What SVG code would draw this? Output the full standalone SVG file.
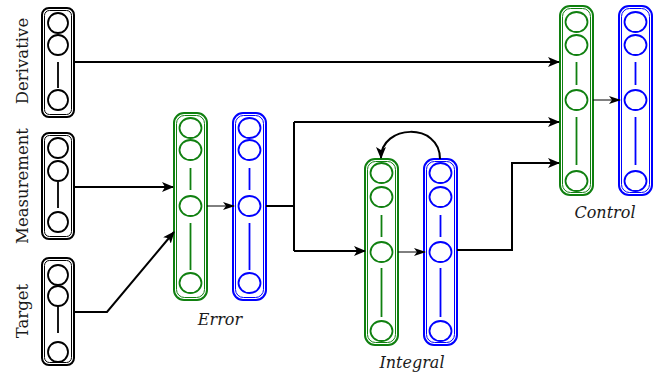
<svg xmlns="http://www.w3.org/2000/svg" width="661" height="375" viewBox="0 0 661 375">
<style>
.lab{font-family:"DejaVu Serif","Liberation Serif",serif;font-size:16.5px;fill:#1a1a1a}
.it{font-family:"DejaVu Serif","Liberation Serif",serif;font-style:italic;font-size:16px;fill:#1a1a1a}
.bk{fill:none;stroke:#000}
.gr{fill:none;stroke:#108010}
.bl{fill:none;stroke:#0000ff}
.o{stroke-width:2}
.i{stroke-width:1}
.c{stroke-width:1.8}
.con{fill:none;stroke:#000;stroke-width:2}
.thin{fill:none;stroke:#000;stroke-width:1}
</style>
<defs>
<marker id="ah" markerWidth="12" markerHeight="10" refX="11" refY="5" orient="auto" markerUnits="userSpaceOnUse">
<path d="M0,0 L12,5 L0,10 L3,5 z" fill="#000"/>
</marker>
<marker id="ahs" markerWidth="12" markerHeight="8" refX="11" refY="4" orient="auto" markerUnits="userSpaceOnUse">
<path d="M0,0 L12,4 L0,8 L3,4 z" fill="#000"/>
</marker>
</defs>

<g id="derivative">
<rect class="bk o" x="42" y="8" width="32" height="109" rx="7"/>
<rect class="bk i" x="44.5" y="10.5" width="27" height="104" rx="5"/>
<circle class="bk c" cx="58" cy="23" r="10"/>
<circle class="bk c" cx="58" cy="45" r="10"/>
<line class="bk c" x1="58" y1="62" x2="58" y2="88"/>
<circle class="bk c" cx="58" cy="100" r="10"/>
<text class="lab" transform="translate(28,61) rotate(-90)" text-anchor="middle">Derivative</text>
</g>

<g id="measurement">
<rect class="bk o" x="42" y="133" width="32" height="106" rx="7"/>
<rect class="bk i" x="44.5" y="135.5" width="27" height="101" rx="5"/>
<circle class="bk c" cx="58" cy="148" r="10"/>
<circle class="bk c" cx="58" cy="171" r="10"/>
<line class="bk c" x1="58" y1="182" x2="58" y2="208"/>
<circle class="bk c" cx="58" cy="222" r="10"/>
<text class="lab" transform="translate(28,186) rotate(-90)" text-anchor="middle">Measurement</text>
</g>

<g id="target">
<rect class="bk o" x="42" y="258" width="32" height="107" rx="7"/>
<rect class="bk i" x="44.5" y="260.5" width="27" height="102" rx="5"/>
<circle class="bk c" cx="58" cy="275" r="10"/>
<circle class="bk c" cx="58" cy="296" r="10"/>
<line class="bk c" x1="58" y1="306" x2="58" y2="333"/>
<circle class="bk c" cx="58" cy="352" r="10"/>
<text class="lab" transform="translate(28,311) rotate(-90)" text-anchor="middle">Target</text>
</g>

<g id="error">
<rect class="gr o" x="174" y="113" width="33" height="187" rx="10"/>
<rect class="gr i" x="176.5" y="115.5" width="28" height="182" rx="8"/>
<ellipse class="gr c" cx="190.5" cy="128" rx="11" ry="10"/>
<ellipse class="gr c" cx="190.5" cy="150" rx="11" ry="10"/>
<line class="gr c" x1="190.5" y1="168" x2="190.5" y2="190"/>
<ellipse class="gr c" cx="190.5" cy="206" rx="11" ry="10"/>
<line class="gr c" x1="190.5" y1="223" x2="190.5" y2="270"/>
<ellipse class="gr c" cx="190.5" cy="283" rx="11" ry="10"/>
<rect class="bl o" x="233" y="113" width="33" height="187" rx="10"/>
<rect class="bl i" x="235.5" y="115.5" width="28" height="182" rx="8"/>
<ellipse class="bl c" cx="249.5" cy="128" rx="11" ry="10"/>
<ellipse class="bl c" cx="249.5" cy="150" rx="11" ry="10"/>
<line class="bl c" x1="249.5" y1="168" x2="249.5" y2="190"/>
<ellipse class="bl c" cx="249.5" cy="206" rx="11" ry="10"/>
<line class="bl c" x1="249.5" y1="223" x2="249.5" y2="270"/>
<ellipse class="bl c" cx="249.5" cy="283" rx="11" ry="10"/>
<text class="it" x="220" y="325" text-anchor="middle">Error</text>
</g>

<g id="integral">
<rect class="gr o" x="365" y="159" width="33" height="186" rx="10"/>
<rect class="gr i" x="367.5" y="161.5" width="28" height="181" rx="8"/>
<ellipse class="gr c" cx="381.5" cy="173" rx="11" ry="10"/>
<ellipse class="gr c" cx="381.5" cy="197" rx="11" ry="10"/>
<line class="gr c" x1="381.5" y1="215" x2="381.5" y2="237"/>
<ellipse class="gr c" cx="381.5" cy="252" rx="11" ry="10"/>
<line class="gr c" x1="381.5" y1="268" x2="381.5" y2="317"/>
<ellipse class="gr c" cx="381.5" cy="331" rx="11" ry="10"/>
<rect class="bl o" x="424" y="159" width="33" height="186" rx="10"/>
<rect class="bl i" x="426.5" y="161.5" width="28" height="181" rx="8"/>
<ellipse class="bl c" cx="440.5" cy="173" rx="11" ry="10"/>
<ellipse class="bl c" cx="440.5" cy="197" rx="11" ry="10"/>
<line class="bl c" x1="440.5" y1="215" x2="440.5" y2="237"/>
<ellipse class="bl c" cx="440.5" cy="252" rx="11" ry="10"/>
<line class="bl c" x1="440.5" y1="268" x2="440.5" y2="317"/>
<ellipse class="bl c" cx="440.5" cy="331" rx="11" ry="10"/>
<text class="it" x="412" y="368" text-anchor="middle">Integral</text>
</g>

<g id="control">
<rect class="gr o" x="560" y="6" width="33" height="189" rx="10"/>
<rect class="gr i" x="562.5" y="8.5" width="28" height="184" rx="8"/>
<ellipse class="gr c" cx="576.5" cy="22" rx="11" ry="10"/>
<ellipse class="gr c" cx="576.5" cy="45" rx="11" ry="10"/>
<line class="gr c" x1="576.5" y1="62" x2="576.5" y2="85"/>
<ellipse class="gr c" cx="576.5" cy="100" rx="11" ry="10"/>
<line class="gr c" x1="576.5" y1="117" x2="576.5" y2="165"/>
<ellipse class="gr c" cx="576.5" cy="181" rx="11" ry="10"/>
<rect class="bl o" x="619" y="6" width="33" height="189" rx="10"/>
<rect class="bl i" x="621.5" y="8.5" width="28" height="184" rx="8"/>
<ellipse class="bl c" cx="635.5" cy="22" rx="11" ry="10"/>
<ellipse class="bl c" cx="635.5" cy="45" rx="11" ry="10"/>
<line class="bl c" x1="635.5" y1="62" x2="635.5" y2="85"/>
<ellipse class="bl c" cx="635.5" cy="100" rx="11" ry="10"/>
<line class="bl c" x1="635.5" y1="117" x2="635.5" y2="165"/>
<ellipse class="bl c" cx="635.5" cy="181" rx="11" ry="10"/>
<text class="it" x="605" y="218" text-anchor="middle">Control</text>
</g>

<g id="connectors">
<path class="con" d="M74,62 H559" marker-end="url(#ah)"/>
<path class="con" d="M74,187 H173" marker-end="url(#ah)"/>
<path class="con" d="M74,312 H107 L174,232" marker-end="url(#ah)"/>
<path class="thin" d="M207,206 H234" marker-end="url(#ahs)"/>
<path class="con" d="M266,206 H294 M294,122 V251"/>
<path class="con" d="M294,122 H559" marker-end="url(#ah)"/>
<path class="con" d="M294,251 H365" marker-end="url(#ah)"/>
<path class="thin" d="M398,252 H425" marker-end="url(#ahs)"/>
<path class="con" d="M440,159 C440,122 381,124 381,158" marker-end="url(#ah)"/>
<path class="con" d="M457,250 H512 V163 H559" marker-end="url(#ah)"/>
<path class="thin" d="M593,100 H620" marker-end="url(#ahs)"/>
</g>
</svg>
